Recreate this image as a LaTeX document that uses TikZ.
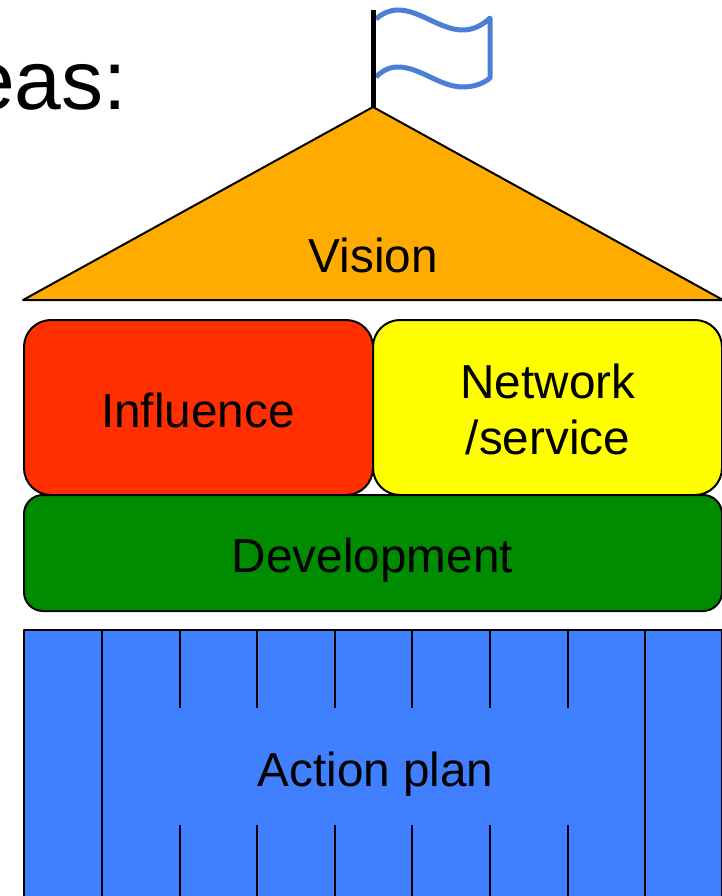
\documentclass[tikz,border=0pt]{standalone}
\usepackage{fontspec}
\setmainfont{Liberation Sans}
\definecolor{roof}{HTML}{FFAB00}
\definecolor{infl}{HTML}{FF2F00}
\definecolor{netw}{HTML}{FFFF00}
\definecolor{devel}{HTML}{008C00}
\definecolor{actn}{HTML}{4080FF}
\definecolor{flagc}{HTML}{4A7FD8}
\tikzset{
  outline/.style={draw=black,line width=2pt,line join=round},
  divider/.style={draw=black,line width=2pt},
  lbl/.style={font=\fontsize{47.7}{56}\selectfont,anchor=base,inner sep=0pt,text=black},
}
\begin{document}
\begin{tikzpicture}[x=1pt,y=-1pt]
\useasboundingbox (0,0) rectangle (722,896);
\clip (0,0) rectangle (722,896);
% heading fragment
\node[anchor=base east,inner sep=0pt,font=\fontsize{84}{92}\selectfont] (head) at (127,110) {eas:};
% flag
\draw[flagc,line width=5pt,line join=round] (376,19) .. controls (383,13) and (390,10) .. (398,10)
  .. controls (420,10) and (440,30) .. (463,30) .. controls (473,30) and (483,25) .. (490,18)
  -- (490,78) .. controls (483,84) and (473,87) .. (463,87)
  .. controls (440,87) and (420,67) .. (398,67) .. controls (390,67) and (383,70) .. (376,77);
\draw[black,line width=5pt] (373,10) -- (373,107);
% roof
\draw[outline,fill=roof] (373,107) -- (723,300) -- (23,300) -- cycle;
\node[lbl] (vision) at (373.5,272) {Vision};
% pillars
\draw[outline,fill=infl,rounded corners=27pt] (24,320) rectangle (373,495);
\draw[outline,fill=netw,rounded corners=27pt] (373,320) rectangle (722,495);
\node[lbl] (influence) at (198,427) {Influence};
\node[lbl] (network) at (548,398) {Network};
\node[lbl] (service) at (548,454) {/service};
% development
\draw[outline,fill=devel,rounded corners=19pt] (24,495) rectangle (722,611);
\node[lbl] (development) at (372.5,572) {Development};
% action plan
\draw[outline,fill=actn] (24,630) rectangle (722,900);
\foreach \x in {102,645} \draw[divider] (\x,630) -- (\x,900);
\foreach \x in {180,257,335,412,490,568} {
  \draw[divider] (\x,630) -- (\x,708);
  \draw[divider] (\x,825) -- (\x,900);
}
\node[lbl] (action) at (375.5,786) {Action plan};
\end{tikzpicture}
\end{document}
